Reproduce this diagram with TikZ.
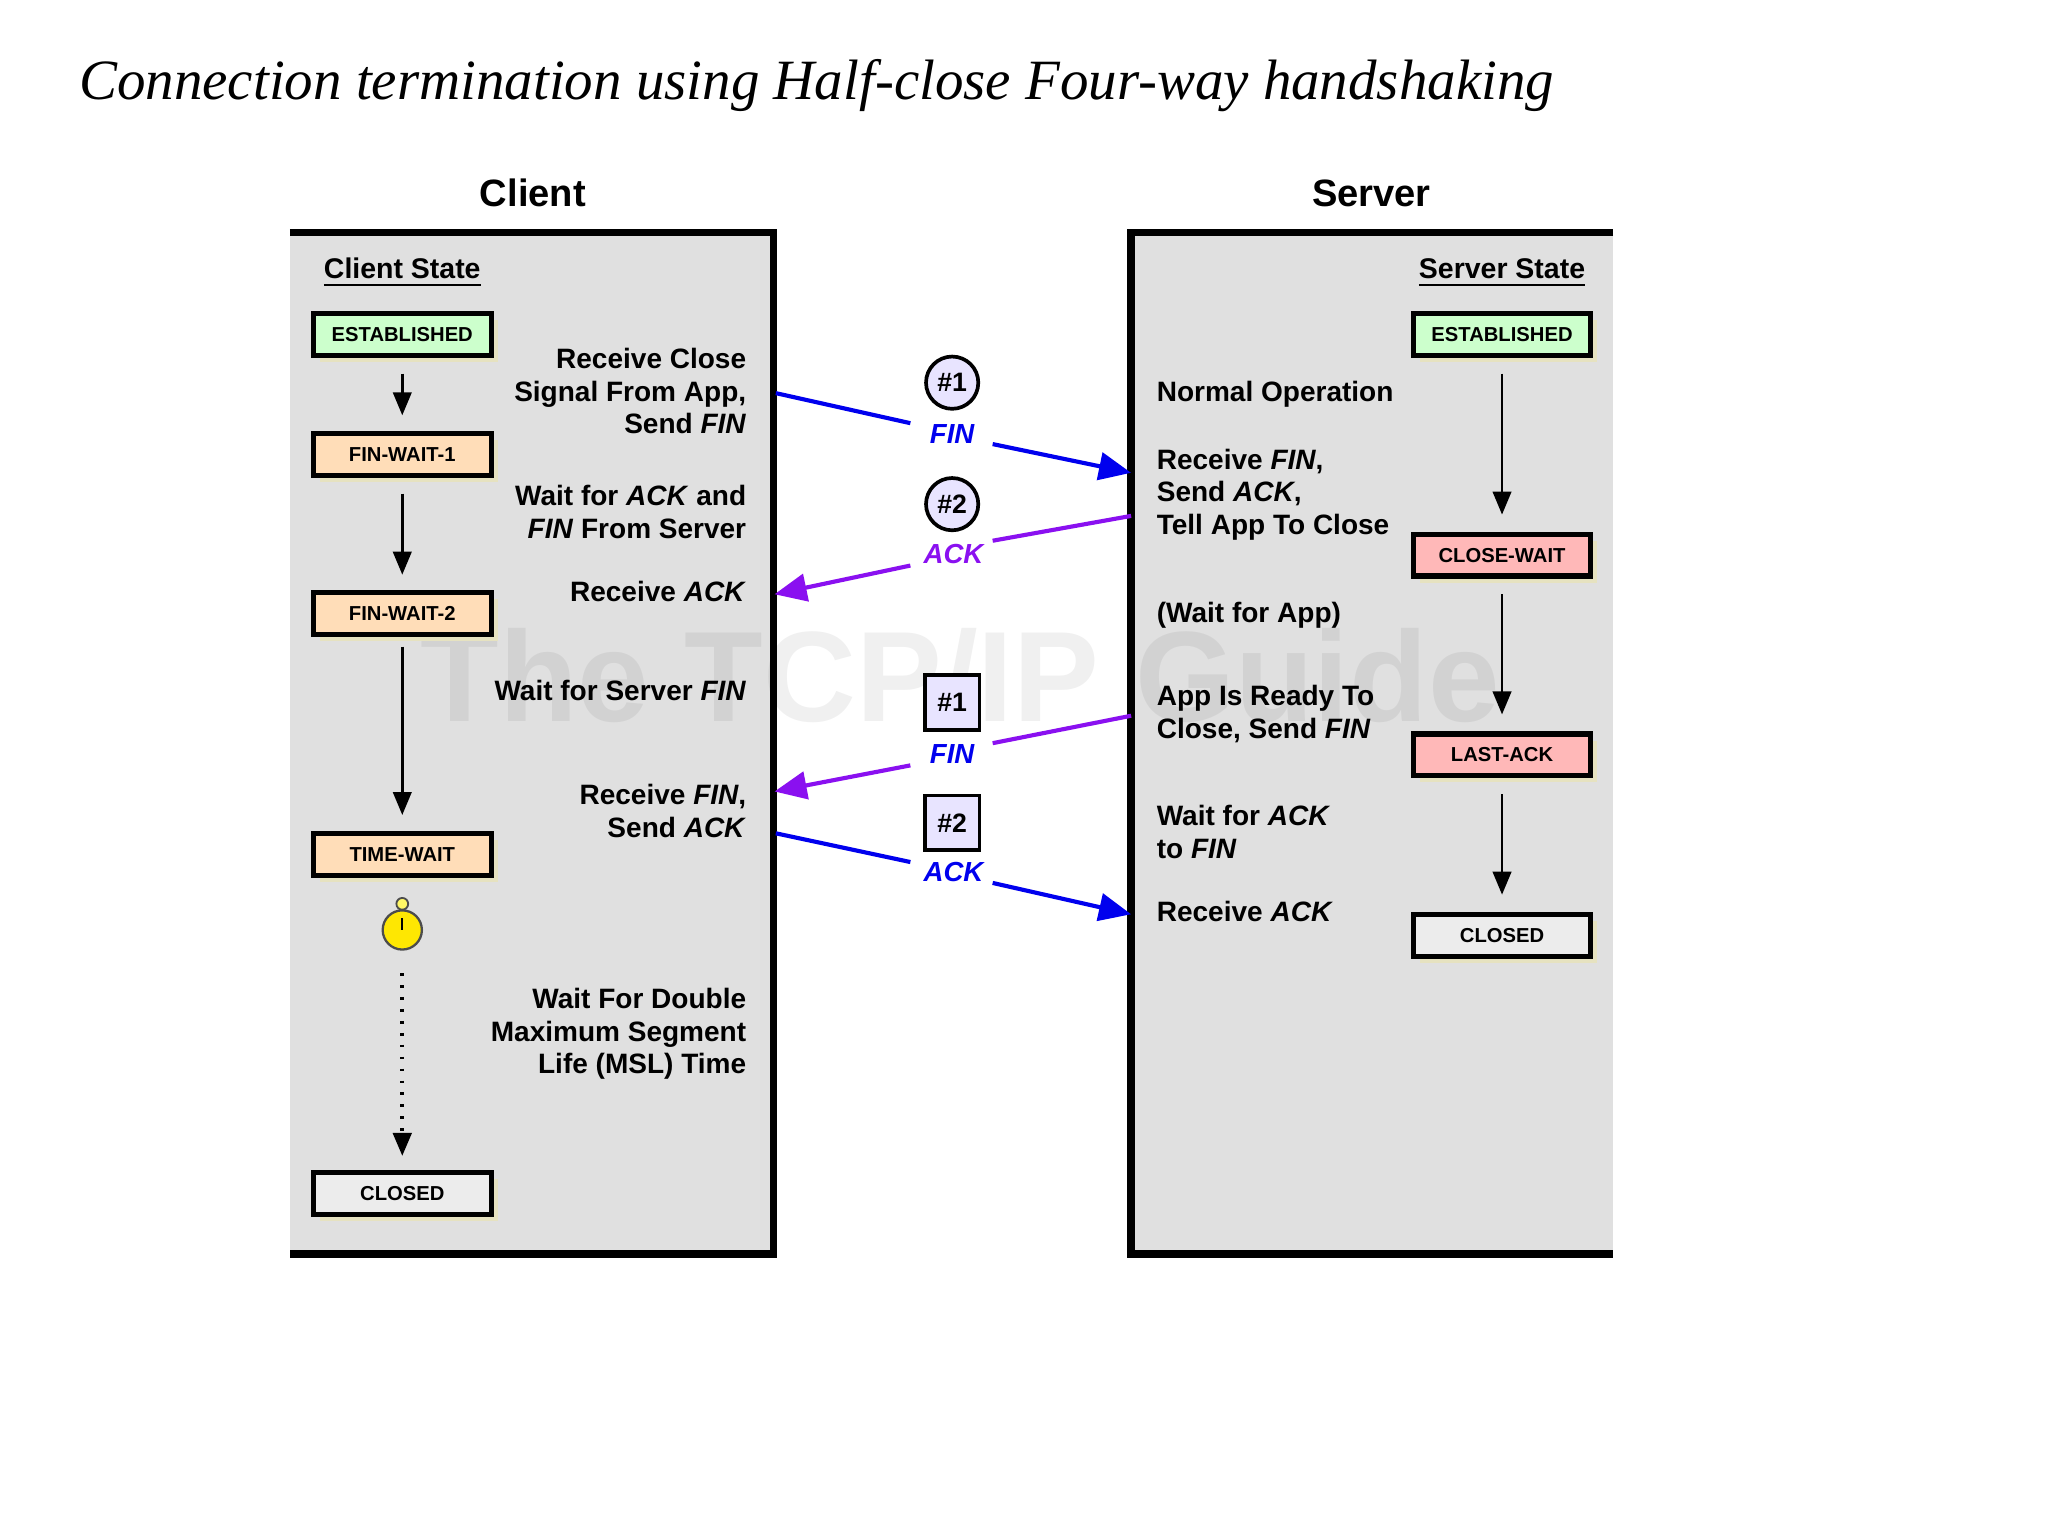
\documentclass[tikz,border=0pt]{standalone}
\usepackage{fontspec}
\setmainfont{Liberation Sans}
\newfontfamily\titlefont{Liberation Serif}
\usetikzlibrary{arrows.meta,shadows}
\definecolor{panel}{HTML}{E0E0E0}
\definecolor{estgreen}{HTML}{CCFFCC}
\definecolor{peach}{HTML}{FFDDB8}
\definecolor{pinkst}{HTML}{FFB8B8}
\definecolor{msgblue}{HTML}{0000EE}
\definecolor{msgpurple}{HTML}{8A10F0}
\definecolor{lav}{HTML}{E8E4FF}
\definecolor{shad}{HTML}{E6E2C0}
\tikzset{
  x=0.01cm,y=-0.01cm,
  state/.style={draw=black,line width=1.1pt,minimum width=1.36cm,minimum height=0.32cm,inner sep=0,
    font=\fontsize{4.4}{5}\selectfont\bfseries,
    drop shadow={fill=shad,opacity=1,shadow xshift=0.05cm,shadow yshift=-0.05cm}},
  desc/.style={font=\fontsize{6.1}{7.1}\selectfont\bfseries,inner sep=0},
  head/.style={font=\fontsize{8.3}{10}\selectfont\bfseries,inner sep=0},
  stdown/.style={-{Triangle[length=5pt,width=4pt]},line width=0.6pt},
  msg/.style={line width=0.9pt},
  msgtip/.style={msg,-{Triangle[length=7pt,width=6pt]}},
  num/.style={draw,line width=0.8pt,fill=lav,font=\fontsize{5.8}{7}\selectfont\bfseries,inner sep=0},
  lbl/.style={font=\fontsize{6}{7}\selectfont\bfseries\itshape,inner sep=0},
  border/.style={line width=1.6pt}
}
\begin{document}
\begin{tikzpicture}
\useasboundingbox (0,0) rectangle (1568,1176);
\node[anchor=base west,inner sep=0,font=\titlefont\fontsize{12.4}{14}\selectfont\itshape] (title) at (60,76) {Connection termination using Half-close Four-way handshaking};
% panels
\fill[panel] (222,178) rectangle (592,960);
\fill[panel] (866,178) rectangle (1235,960);
% watermark
\node[font=\fontsize{28}{30}\selectfont\bfseries,text=black,opacity=0.06,inner sep=0] (wm) at (735,518) {The TCP/IP Guide};
\draw[border] (222,178) -- (592,178) -- (592,960) -- (222,960);
\draw[border] (1235,178) -- (866,178) -- (866,960) -- (1235,960);
\node[head] (client) at (408,148) {Client};
\node[head] (server) at (1050,148) {Server};
\node[desc,font=\fontsize{6.2}{7}\selectfont\bfseries] (cs) at (308,209) {\underline{Client State}};
\node[desc,font=\fontsize{6.2}{7}\selectfont\bfseries] (ss) at (1150,209) {\underline{Server State}};
% client states
\node[state,fill=estgreen] (c1) at (308,256) {ESTABLISHED};
\node[state,fill=peach] (c2) at (308,348) {FIN-WAIT-1};
\node[state,fill=peach] (c3) at (308,470) {FIN-WAIT-2};
\node[state,fill=peach] (c4) at (308,654) {TIME-WAIT};
\node[state,fill=panel!60!white] (c5) at (308,914) {CLOSED};
\draw[stdown] (308,286) coordinate (a1) -- (308,318) coordinate (a2);
\draw[stdown] (308,378) coordinate (a3) -- (308,440) coordinate (a4);
\draw[stdown] (308,495) coordinate (a5) -- (308,624) coordinate (a6);
% stopwatch
\node[circle,draw=black!70,line width=0.5pt,fill=yellow!90!orange,minimum size=0.3cm,inner sep=0] (watch) at (308,712) {};
\node[circle,draw=black!70,line width=0.4pt,fill=yellow!60,minimum size=0.09cm,inner sep=0] (knob) at (308,692) {};
\draw[line width=0.5pt] (watch.center) -- ++(0,-9);
\draw[stdown,dotted,line width=0.8pt] (308,745) coordinate (a7) -- (308,885) coordinate (a8);
% server states
\node[state,fill=estgreen] (s1) at (1150,256) {ESTABLISHED};
\node[state,fill=pinkst] (s2) at (1150,425) {CLOSE-WAIT};
\node[state,fill=pinkst] (s3) at (1150,578) {LAST-ACK};
\node[state,fill=panel!60!white] (s4) at (1150,716) {CLOSED};
\draw[stdown] (1150,286) coordinate (b1) -- (1150,394) coordinate (b2);
\draw[stdown] (1150,455) coordinate (b3) -- (1150,547) coordinate (b4);
\draw[stdown] (1150,608) coordinate (b5) -- (1150,685) coordinate (b6);
% client texts
\node[desc,anchor=north east,align=right] (t1) at (572,266) {Receive Close\\Signal From App,\\Send \textit{FIN}};
\node[desc,anchor=north east,align=right] (t2) at (572,371) {Wait for \textit{ACK} and\\\textit{FIN} From Server};
\node[desc,anchor=north east,align=right] (t3) at (572,444) {Receive \textit{ACK}};
\node[desc,anchor=north east,align=right] (t4) at (572,520) {Wait for Server \textit{FIN}};
\node[desc,anchor=north east,align=right] (t5) at (572,600) {Receive \textit{FIN},\\Send \textit{ACK}};
\node[desc,anchor=north east,align=right] (t6) at (572,756) {Wait For Double\\Maximum Segment\\Life (MSL) Time};
% server texts
\node[desc,anchor=north west,align=left] (u1) at (885,291) {Normal Operation};
\node[desc,anchor=north west,align=left] (u2) at (885,343) {Receive \textit{FIN},\\Send \textit{ACK},\\Tell App To Close};
\node[desc,anchor=north west,align=left] (u3) at (885,460) {(Wait for App)};
\node[desc,anchor=north west,align=left] (u4) at (885,524) {App Is Ready To\\Close, Send \textit{FIN}};
\node[desc,anchor=north west,align=left] (u5) at (885,616) {Wait for \textit{ACK}\\to \textit{FIN}};
\node[desc,anchor=north west,align=left] (u6) at (885,689) {Receive \textit{ACK}};
% messages
\node[num,circle,minimum size=0.4cm] (n1) at (729,293) {\#1};
\node[lbl,text=msgblue] (l1) at (729,332) {FIN};
\coordinate (m1a) at (594,301); \coordinate (m1b) at (697,324);
\coordinate (m1c) at (760,340); \coordinate (m1d) at (866,362);
\draw[msg,msgblue] (m1a) -- (m1b);
\draw[msgtip,msgblue] (m1c) -- (m1d);
\node[num,circle,minimum size=0.4cm] (n2) at (729,386) {\#2};
\node[lbl,text=msgpurple] (l2) at (730,424) {ACK};
\coordinate (m2a) at (866,395); \coordinate (m2b) at (760,414);
\coordinate (m2c) at (697,433); \coordinate (m2d) at (593,455);
\draw[msg,msgpurple] (m2a) -- (m2b);
\draw[msgtip,msgpurple] (m2c) -- (m2d);
\node[num,minimum size=0.42cm] (n3) at (729,538) {\#1};
\node[lbl,text=msgblue] (l3) at (729,577) {FIN};
\coordinate (m3a) at (866,548); \coordinate (m3b) at (760,569);
\coordinate (m3c) at (697,586); \coordinate (m3d) at (593,606);
\draw[msg,msgpurple] (m3a) -- (m3b);
\draw[msgtip,msgpurple] (m3c) -- (m3d);
\node[num,minimum size=0.42cm] (n4) at (729,630) {\#2};
\node[lbl,text=msgblue] (l4) at (730,668) {ACK};
\coordinate (m4a) at (594,638); \coordinate (m4b) at (697,660);
\coordinate (m4c) at (760,676); \coordinate (m4d) at (866,700);
\draw[msg,msgblue] (m4a) -- (m4b);
\draw[msgtip,msgblue] (m4c) -- (m4d);
\end{tikzpicture}
\end{document}
